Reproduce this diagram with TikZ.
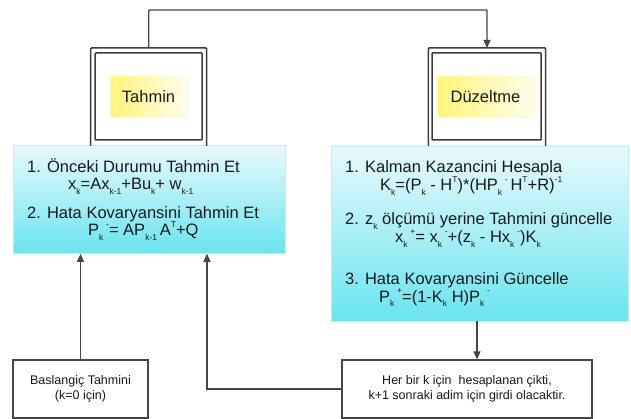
\documentclass[tikz,border=0pt]{standalone}
\usepackage{fontspec}
\setmainfont{Liberation Sans}
\usetikzlibrary{arrows.meta}
\definecolor{txt}{RGB}{25,25,25}
\definecolor{frm}{RGB}{60,60,60}
\definecolor{lnc}{RGB}{70,70,70}
\definecolor{bluetop}{RGB}{232,250,252}
\definecolor{bluebot}{RGB}{105,228,238}
\definecolor{blueedge}{RGB}{190,240,245}
\definecolor{yelL}{RGB}{255,244,120}
\definecolor{yelR}{RGB}{255,254,235}
\newcommand\sbk[1]{\raisebox{-0.25em}{\fontsize{8.5}{9}\selectfont #1}}
\newcommand\spk[1]{\raisebox{0.5em}{\fontsize{8.5}{9}\selectfont #1}}
\newcommand\mainsz{\fontsize{16.5}{19}\selectfont}
\newcommand\smallsz{\fontsize{12.5}{15}\selectfont}
\begin{document}
\begin{tikzpicture}[x=1pt,y=-1pt,
  framestyle/.style={draw=frm,line width=1.5pt,rounded corners=1pt},
  innerbox/.style={draw=frm,line width=1.5pt,rounded corners=0.8pt,minimum width=107pt,minimum height=87pt,inner sep=0pt},
  yellabel/.style={left color=yelL,right color=yelR,draw=yelL!40!white,line width=0.4pt,minimum width=77pt,minimum height=40pt,inner sep=0pt,font=\mainsz,text=txt},
  bluebox/.style={top color=bluetop,bottom color=bluebot,draw=blueedge,line width=0.6pt,inner sep=0pt},
  txtline/.style={anchor=base west,inner sep=0pt,font=\mainsz,text=txt},
  smallbox/.style={draw=lnc,line width=1.1pt,fill=white,align=center,font=\smallsz,text=txt,inner sep=0pt},
  conn/.style={draw=lnc,line width=1.2pt},
  arr/.style={conn,-{Triangle[length=8pt,width=7pt]}},
]
\useasboundingbox (0,0) rectangle (631,419);
\fill[white] (0,0) rectangle (631,419);

% blue boxes
\node[bluebox,minimum width=272pt,minimum height=108pt] (pred) at (149,199.5) {};
\node[bluebox,minimum width=297pt,minimum height=175pt] (corr) at (479.5,233.5) {};

% Tahmin frame
\draw[framestyle] (90.7,146) -- (90.7,48) -- (206.7,48) -- (206.7,146);
\coordinate (tahminTop) at (148.7,48);
\node[innerbox] (tahminIn) at (148.7,96.5) {};
\node[yellabel] (tahmin) at (148.5,97) {Tahmin};

% Duzeltme frame
\draw[framestyle] (428.3,146) -- (428.3,48) -- (545.7,48) -- (545.7,146);
\coordinate (duzTop) at (487,48);
\node[innerbox,minimum width=109pt] (duzIn) at (486.5,96.5) {};
\node[yellabel,minimum width=97pt] (duz) at (485.5,97) {Düzeltme};

% top connector
\coordinate (topL) at (148.7,10);
\draw[arr,rounded corners=0.5pt] (tahminTop) -- (topL) -| (duzTop);

% left box text
\node[txtline] (l1) at (27,172.5) {1. Önceki Durumu Tahmin Et};
\node[txtline] (l2) at (68,190) {x\sbk{k}=Ax\sbk{k-1}+Bu\sbk{k}+ w\sbk{k-1}};
\node[txtline] (l3) at (27,218.5) {2. Hata Kovaryansini Tahmin Et};
\node[txtline] (l4) at (88,236) {P\sbk{k}\,\spk{-}= AP\sbk{k-1}\,A\spk{T}+Q};

% right box text
\node[txtline] (r1) at (345,172.5) {1. Kalman Kazancini Hesapla};
\node[txtline] (r2) at (380,191) {K\sbk{k}=(P\sbk{k} - H\spk{T})*(HP\sbk{k}\,\spk{-}\,H\spk{T}+R)\spk{-1}};
\node[txtline] (r3) at (345,225) {2. z\sbk{k} ölçümü yerine Tahmini güncelle};
\node[txtline] (r4) at (395,243) {x\sbk{k}\,\spk{+}= x\sbk{k}\,\spk{-}+(z\sbk{k} - Hx\sbk{k}\,\spk{-})K\sbk{k}};
\node[txtline] (r5) at (345,285) {3. Hata Kovaryansini Güncelle};
\node[txtline] (r6) at (379,302) {P\sbk{k}\,\spk{+}=(1-K\sbk{k} H)P\sbk{k}\,\spk{-}};

% bottom boxes
\node[smallbox,minimum width=135pt,minimum height=58pt] (start) at (80.5,389) {Baslangiç Tahmini\\(k=0 için)};
\node[smallbox,minimum width=250pt,minimum height=58pt] (out) at (467,389) {Her bir k için\ \ hesaplanan çikti,\\k+1 sonraki adim için girdi olacaktir.};

% connectors
\draw[arr] (start.north) -- (start.north |- pred.south);
\coordinate (retX) at (207,389);
\draw[arr] (out.west) -- (retX) -- (retX |- pred.south);
\coordinate (downX) at (477,330);
\draw[arr] (downX |- corr.south) -- (downX |- out.north);
\end{tikzpicture}
\end{document}
